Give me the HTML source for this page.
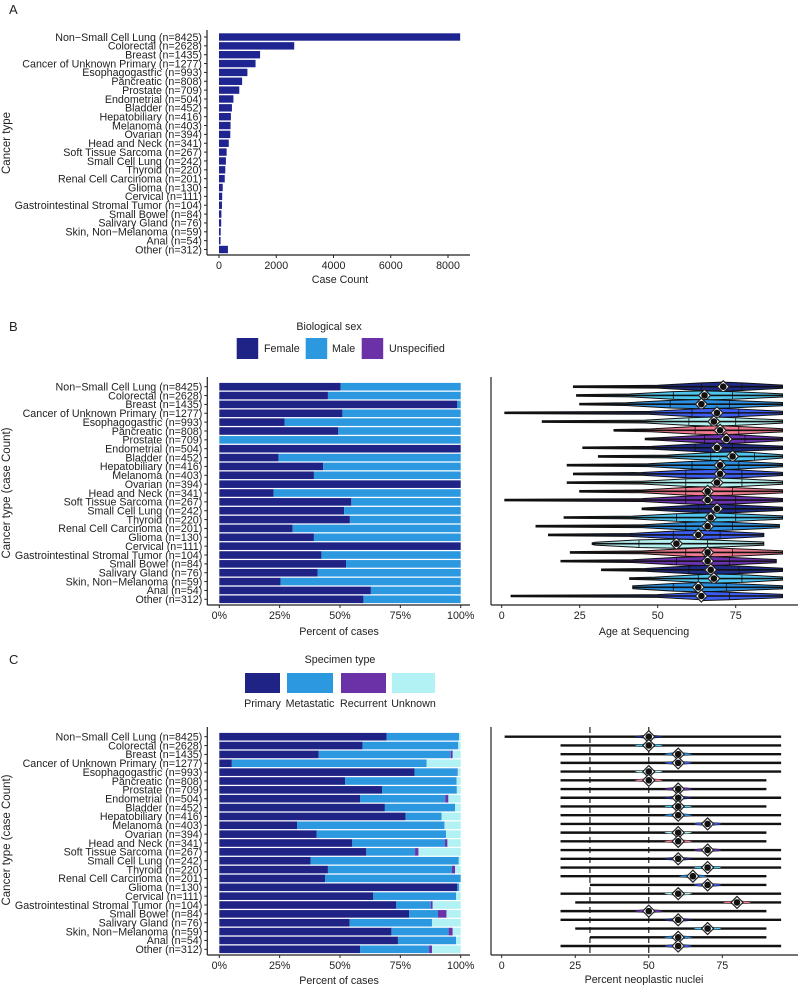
<!DOCTYPE html>
<html><head><meta charset="utf-8">
<style>
html,body{margin:0;padding:0;background:#fff;}
svg{display:block;font-family:"Liberation Sans",Arial,sans-serif;}
text{fill:#222;}
</style></head>
<body>
<svg id="fig" width="798" height="985" viewBox="0 0 798 985" xmlns="http://www.w3.org/2000/svg"></svg>
<script>
const categories=["Non\u2212Small Cell Lung (n=8425)","Colorectal (n=2628)","Breast (n=1435)","Cancer of Unknown Primary (n=1277)","Esophagogastric (n=993)","Pancreatic (n=808)","Prostate (n=709)","Endometrial (n=504)","Bladder (n=452)","Hepatobiliary (n=416)","Melanoma (n=403)","Ovarian (n=394)","Head and Neck (n=341)","Soft Tissue Sarcoma (n=267)","Small Cell Lung (n=242)","Thyroid (n=220)","Renal Cell Carcinoma (n=201)","Glioma (n=130)","Cervical (n=111)","Gastrointestinal Stromal Tumor (n=104)","Small Bowel (n=84)","Salivary Gland (n=76)","Skin, Non\u2212Melanoma (n=59)","Anal (n=54)","Other (n=312)"];
const caseCounts=[8425,2628,1435,1277,993,808,709,504,452,416,403,394,341,267,242,220,201,130,111,104,84,76,59,54,312];
const countTicks=[0,2000,4000,6000,8000];
const pctTicks=[0,25,50,75,100];
const femalePct=[50.3,45,98.6,51,27,49.3,0,100,24.5,43,39.2,100,22.5,54.7,51.7,54.1,30.4,39.2,100,42.3,52.5,40.7,25.4,62.8,59.7];
const primaryPct=[69.3,59.3,41.2,5.2,80.9,52.1,67.4,58.4,68.6,77.2,32.2,40.3,55.1,60.9,37.8,45.0,43.8,98.6,63.8,73.2,78.6,54.0,71.3,74.0,58.3];
const metastaticPct=[30.0,39.7,54.7,80.7,17.7,46.2,30.9,35.2,29.1,14.9,61.0,53.6,38.4,20.2,61.4,51.4,56.2,0.7,34.3,14.4,12.0,34.1,23.7,24.1,28.6];
const recurrentPct=[0,0,0.8,0,0.2,0,0.1,1.3,0,0,0.1,0,1.0,1.4,0,1.3,0,0,0,0.8,3.5,0,1.7,0,1.2];
const ageMin=[23,24,25,1,13,36,46,26,31,21,23,21,25,1,45,20,11,15,29,22,19,32,41,42,3];
const ageQ1=[64,55,54,61,60,62,65,62,67,61,59,59,59,59,63,56,59,55,44,59,56,60,63,55,64];
const ageMed=[71,65,64,69,68,70,72,69,74,70,70,69,66,66,69,67,66,63,56,66,66,67,68,63,64];
const ageQ3=[77,74,73,76,75,76,78,74,81,76,77,77,74,75,75,75,74,70,66,74,73,76,77,72,73];
const ageMax=[90,90,90,90,90,90,90,90,90,90,90,90,90,90,90,90,89,84,84,90,88,90,90,90,90];
const ageTicks=[0,25,50,75];
const nucMin=[1,20,20,20,20,20,20,20,20,20,20,20,20,20,20,20,20,30,20,25,20,20,25,30,20];
const nucMed=[50,50,60,60,50,50,60,60,60,60,70,60,60,70,60,70,65,70,60,80,50,60,70,60,60];
const nucMax=[95,95,95,95,95,90,90,95,90,95,95,90,90,95,95,95,90,90,95,95,90,95,90,90,95];
const nucTicks=[0,25,50,75];
const nucRefLines=[30,50];

const S=document.getElementById('fig');
const NS='http://www.w3.org/2000/svg';
function el(tag,attrs,parent){const e=document.createElementNS(NS,tag);for(const k in attrs)e.setAttribute(k,attrs[k]);(parent||S).appendChild(e);return e;}
function txt(x,y,s,size,anchor,parent,rot){const t=el('text',{x:x,y:y,'font-size':size,'text-anchor':anchor||'start'},parent);if(rot)t.setAttribute('transform','rotate(-90 '+x+' '+y+')');t.textContent=s;return t;}
const vcolors=['#1f2a86','#4ec6f0','#2a8fe0','#3c5cf0','#b3f0f0','#f07a8f','#6a32b0'];
const FS=10.7;

function axes(g,x0,y0,x1,y1){el('line',{x1:x0,y1:y0,x2:x0,y2:y1,stroke:'#222','stroke-width':1.2},g);el('line',{x1:x0,y1:y1,x2:x1,y2:y1,stroke:'#222','stroke-width':1.2},g);}
function catLabels(g,rowY,axisX){categories.forEach((c,i)=>{const t=txt(axisX-5,rowY(i)+3.8,c,FS,'end',g);el('line',{x1:axisX-3,y1:rowY(i),x2:axisX,y2:rowY(i),stroke:'#222','stroke-width':1},g);});}
function xTicks(g,ticks,xs,yAxis,fmt){ticks.forEach(v=>{const x=xs(v);el('line',{x1:x,y1:yAxis,x2:x,y2:yAxis+3,stroke:'#222','stroke-width':1},g);const t=txt(x,yAxis+14,fmt(v),FS,'middle',g);});}

// ---------- Panel A ----------
const gA=el('g',{});
txt(9,14,'A',13,'start',gA);
const axA={x:207,y:255,r:470};
const xA=v=>219+v*(448-219)/8000;
const yA=i=>37+i*(249.5-37)/24;
axes(gA,axA.x,30,axA.r,axA.y);
caseCounts.forEach((v,i)=>{const r=el('rect',{x:xA(0),y:yA(i)-3.7,width:xA(v)-xA(0),height:7.4,fill:'#1f2590'},gA);});
catLabels(gA,yA,axA.x);
xTicks(gA,countTicks,xA,axA.y,v=>String(v));
txt(340,283,'Case Count',FS,'middle',gA);
txt(10,143,'Cancer type',11.5,'middle',gA,true);

// ---------- Panel B ----------
const gB=el('g',{});
txt(9,331,'B',13,'start',gB);
txt(329,330,'Biological sex',FS,'middle',gB);
[['Female','#1f2385',236.7,264],['Male','#2b98e0',305.7,332],['Unspecified','#6b32a8',361.7,389]].forEach(l=>{const r=el('rect',{x:l[2],y:338,width:21.5,height:21,fill:l[1]},gB);const t=txt(l[3],352,l[0],FS,'start',gB);});
const xP=v=>219.3+v*(460.7-219.3)/100;
const yB=i=>386.7+i*(599.3-386.7)/24;
axes(gB,207.3,377,470,605);
femalePct.forEach((f,i)=>{
 const a=el('rect',{x:xP(0),y:yB(i)-3.8,width:xP(f)-xP(0),height:7.6,fill:'#1f2385'},gB);
 const b=el('rect',{x:xP(f),y:yB(i)-3.8,width:xP(100)-xP(f),height:7.6,fill:'#2b98e0'},gB);
});
catLabels(gB,yB,207.3);
xTicks(gB,pctTicks,xP,605,v=>v+'%');
txt(339,635,'Percent of cases',FS,'middle',gB);
txt(10,493,'Cancer type (case Count)',11.5,'middle',gB,true);

// B right violins
const gV=el('g',{});
const xAge=v=>501.7+v*(735.7-501.7)/75;
const yV=i=>386.7+i*(596-386.7)/24;
axes(gV,491,377,798,605);
function diamond(g,x,y){const d=el('polygon',{points:`${x},${y-6} ${x+6},${y} ${x},${y+6} ${x-6},${y}`,fill:'#fff',stroke:'#222','stroke-width':1.2},g);el('circle',{cx:x,cy:y,r:3.3,fill:'#111'},g);}
ageMin.forEach((mn,i)=>{
 const y=yV(i),c=vcolors[i%7];
 const xm=xAge(mn),x1=xAge(ageQ1[i]),xmd=xAge(ageMed[i]),x3=xAge(ageQ3[i]),xM=xAge(ageMax[i]);
 const xa=xAge(Math.max(mn,ageQ1[i]-14));
 const pts=[[xm,0.8],[xa,1.4],[x1,3.8],[xmd,4.6],[x3,3.8],[xM,1.6]];
 const top=pts.map(p=>p[0]+','+(y-p[1])).join(' ');
 const bot=pts.slice().reverse().map(p=>p[0]+','+(y+p[1])).join(' ');
 const v=el('polygon',{points:top+' '+bot,fill:c,stroke:'#111','stroke-width':1},gV);
 
 el('line',{x1:xm,y1:y,x2:xM,y2:y,stroke:'#111','stroke-width':1.6},gV);
 [x1,x3].forEach(q=>el('line',{x1:q,y1:y-3.5,x2:q,y2:y+3.5,stroke:'#111','stroke-width':0.8},gV));
 diamond(gV,xmd,y);
});
xTicks(gV,ageTicks,xAge,605,v=>String(v));
txt(644,635,'Age at Sequencing',FS,'middle',gV);

// ---------- Panel C ----------
const gC=el('g',{});
txt(9,664,'C',13,'start',gC);
txt(340,663,'Specimen type',FS,'middle',gC);
[['Primary','#1f2385',245,280],['Metastatic','#2b98e0',287,333],['Recurrent','#6b32a8',341,386],['Unknown','#b2f2f4',392,435]].forEach(l=>{const r=el('rect',{x:l[2],y:673,width:l[3]-l[2],height:20,fill:l[1]},gC);const t=txt((l[2]+l[3])/2,707,l[0],FS,'middle',gC);});
const yC=i=>736.7+i*(949.3-736.7)/24;
axes(gC,207.3,727,470,955);
primaryPct.forEach((p,i)=>{
 const y=yC(i)-3.8;let acc=0;
 [[p,'#1f2385','bar-primary'],[metastaticPct[i],'#2b98e0','bar-metastatic'],[recurrentPct[i],'#6b32a8','bar-recurrent'],[Math.max(0,100-p-metastaticPct[i]-recurrentPct[i]),'#b2f2f4','bar-unknown']].forEach(s=>{
  if(s[0]<=0)return;
  const r=el('rect',{x:xP(acc),y:y,width:xP(acc+s[0])-xP(acc),height:7.6,fill:s[1]},gC);
  
  acc+=s[0];});
});
catLabels(gC,yC,207.3);
xTicks(gC,pctTicks,xP,955,v=>v+'%');
txt(339,984,'Percent of cases',FS,'middle',gC);
txt(10,840,'Cancer type (case Count)',11.5,'middle',gC,true);

// C right
const gN=el('g',{});
const xN=v=>501.7+v*(722.3-501.7)/75;
const yN=i=>736.7+i*(946-736.7)/24;
axes(gN,491,727,798,955);
nucRefLines.forEach(v=>{const l=el('line',{x1:xN(v),y1:727,x2:xN(v),y2:955,stroke:'#222','stroke-width':1.2,'stroke-dasharray':'6,4'},gN);});
nucMin.forEach((mn,i)=>{
 const y=yN(i),c=vcolors[i%7];
 const l=el('line',{x1:xN(mn),y1:y,x2:xN(nucMax[i]),y2:y,stroke:'#111','stroke-width':2.4},gN);
 
 const b=el('ellipse',{cx:xN(nucMed[i]),cy:y,rx:14,ry:1.4,fill:c,stroke:'#111','stroke-width':0.5},gN);
 
 diamond(gN,xN(nucMed[i]),y);
});
xTicks(gN,nucTicks,xN,955,v=>String(v));
txt(644,983,'Percent neoplastic nuclei',FS,'middle',gN);
</script>
</body></html>
